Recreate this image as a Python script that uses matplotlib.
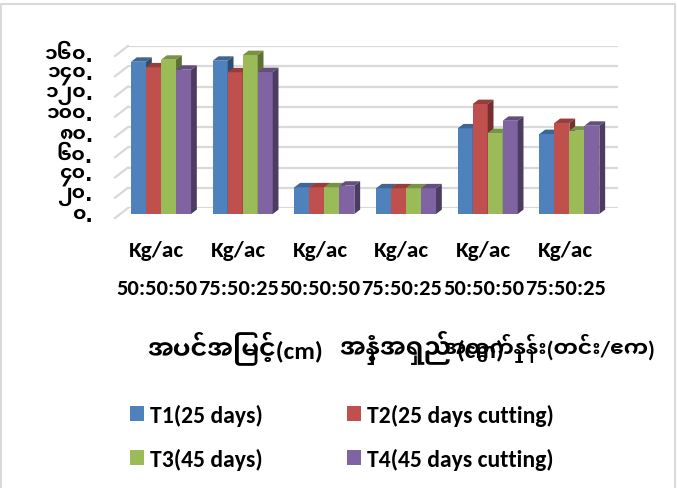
import re

import numpy as np
import matplotlib
matplotlib.use("Agg")
import matplotlib.pyplot as plt
from matplotlib import font_manager
from matplotlib.patches import Rectangle, Polygon, Patch
from matplotlib.transforms import blended_transform_factory
from matplotlib.colors import to_rgb


def pick_font(names):
    for n in names:
        try:
            font_manager.findfont(n, fallback_to_default=False)
            return n
        except ValueError:
            continue
    return "DejaVu Sans"


LATIN = pick_font(["Carlito", "Lato", "Open Sans"])
MYAN = pick_font(["Noto Sans Myanmar UI", "Myanmar Sans Pro", "Noto Sans Myanmar"])
plt.rcParams["font.family"] = [LATIN, MYAN, "DejaVu Sans"]
plt.rcParams["font.weight"] = "bold"

# 數據
units = ["Kg/ac"] * 6
ratios = ["50:50:50", "75:50:25"] * 3
groups = ["အပင်အမြင့်(cm)", "အနှံ့အရှည် (cm)", "အထွက်နှုန်း(တင်း/ဧက)"]
series = ["T1(25 days)", "T2(25 days cutting)", "T3(45 days)", "T4(45 days cutting)"]
t1 = [150.4, 151.4, 26.4, 25.4, 84.6, 79.0]
t2 = [144.9, 140.0, 26.4, 25.4, 108.6, 89.9]
t3 = [152.4, 157.0, 26.4, 25.4, 80.0, 82.3]
t4 = [142.5, 140.2, 28.0, 25.4, 92.1, 87.2]
yticks = [0, 20, 40, 60, 80, 100, 120, 140, 160]
ytick_labels = ["၀.", "၂၀.", "၄၀.", "၆၀.", "၈၀.", "၁၀၀.", "၁၂၀.", "၁၄၀.", "၁၆၀."]
colors = ["#4F81BD", "#C0504D", "#9BBB59", "#8064A2"]


def visual_order(s):
    # Agg 不做緬文重排: 把 ြ 放到輔音前面
    return re.sub("([\u1000-\u1021])\u103c", "\u103c\\1", s)


W, H = 677, 489
wall_l, wall_r, wall_t, wall_b = 128, 618, 47, 209

fig = plt.figure(figsize=(W / 100, H / 100), dpi=100)
ax = fig.add_axes([wall_l / W, 1 - wall_b / H, (wall_r - wall_l) / W, (wall_b - wall_t) / H])
ax.set_xlim(-0.5, 5.5)
ax.set_ylim(0, 160)
ax.axis("off")
renderer = fig.canvas.get_renderer()


def fit_width(t, target):
    w = t.get_window_extent(renderer).width
    t.set_fontsize(t.get_fontsize() * target / w)
    return t.get_fontsize()


# 像素 -> 數據單位
px_x = 6 / (wall_r - wall_l)
px_y = 160 / (wall_b - wall_t)

grid_c = "#D9D9D9"
ylabs = []
for v, lab in zip(yticks, ytick_labels):
    ax.plot([-0.5, 5.5], [v, v], color=grid_c, lw=1.6, zorder=1, solid_capstyle="butt")
    # 側牆的斜線
    ax.plot([-0.5, -0.5 - 13 * px_x], [v, v - 10 * px_y], color=grid_c, lw=1.6, zorder=1,
            clip_on=False)
    ylabs.append(ax.text(-0.5 - 35 * px_x, v - 8 * px_y, lab, ha="right", va="center",
                         fontsize=13, family=[MYAN, "DejaVu Sans"], clip_on=False))
fit_width(ylabs[-1], 49)
for t in ylabs:
    t.set_fontsize(ylabs[-1].get_fontsize())

# 立體柱
bw = 0.1836
fx, fy = -7.8 * px_x, -6 * px_y
bx, by = -2.0 * px_x, -1.6 * px_y


def shade(c, k):
    return tuple(np.array(to_rgb(c)) * k)


z = 2
for i, (vals, c) in enumerate(zip([t1, t2, t3, t4], colors)):
    for j, v in enumerate(vals):
        xl = j - 2 * bw + i * bw
        xr = xl + bw
        ax.add_patch(Rectangle((xl + fx, fy), bw, v, facecolor=c, edgecolor="none", zorder=z,
                               clip_on=False))
        ax.add_patch(Polygon([(xl + fx, v + fy), (xr + fx, v + fy), (xr + bx, v + by), (xl + bx, v + by)],
                             closed=True, facecolor=shade(c, 0.78), edgecolor="none", zorder=z,
                             clip_on=False))
        ax.add_patch(Polygon([(xr + fx, fy), (xr + fx, v + fy), (xr + bx, v + by), (xr + bx, by)],
                             closed=True, facecolor=shade(c, 0.6), edgecolor="none", zorder=z,
                             clip_on=False))
    z += 1

# 分類標籤
cat_tr = blended_transform_factory(ax.transData, fig.transFigure)
cx = np.arange(6) - 12 * px_x
row1, row2 = [], []
for j in range(6):
    row1.append(ax.text(cx[j], 1 - 251 / H, units[j], transform=cat_tr, ha="center", va="center",
                        fontsize=16, clip_on=False))
    row2.append(ax.text(cx[j], 1 - 289 / H, ratios[j], transform=cat_tr, ha="center", va="center",
                        fontsize=16, clip_on=False))
fit_width(row1[0], 55)
fit_width(row2[0], 81)
for t in row1:
    t.set_fontsize(row1[0].get_fontsize())
for t in row2:
    t.set_fontsize(row2[0].get_fontsize())

# 第三層分類
grp = [fig.text(0, 1 - 348 / H, visual_order(g), va="center", fontsize=16, family=[LATIN, MYAN])
       for g in groups]
gfs = fit_width(grp[0], 176)
grp[1].set_fontsize(gfs)
fit_width(grp[2], 212)
grp[0].set_x(235 / W)
grp[0].set_ha("center")
grp[1].set_x(340 / W)
grp[2].set_x(443 / W)

# 圖例
tmp = fig.text(0, 0, series[1], fontsize=16)
leg_fs = fit_width(tmp, 187)
tmp.remove()
order = [0, 2, 1, 3]
handles = [Patch(facecolor=colors[k], edgecolor="none") for k in order]
fs_px = leg_fs * 100 / 72
fig.legend(handles, [series[k] for k in order], ncol=2, loc="upper left",
           bbox_to_anchor=((130 - 0.4 * fs_px) / W, 1 - 395 / H), borderaxespad=0,
           frameon=False, fontsize=leg_fs, handlelength=14 / fs_px, handleheight=14 / fs_px,
           handletextpad=6 / fs_px, columnspacing=84 / fs_px, labelspacing=0.95)

# 外框
fig.patches.append(Rectangle((1 / W, -0.05), 674 / W, 1.05 - 5 / H, transform=fig.transFigure,
                             fill=False, edgecolor="#D9D9D9", lw=1.5))

fig.savefig("out.png", dpi=100)
